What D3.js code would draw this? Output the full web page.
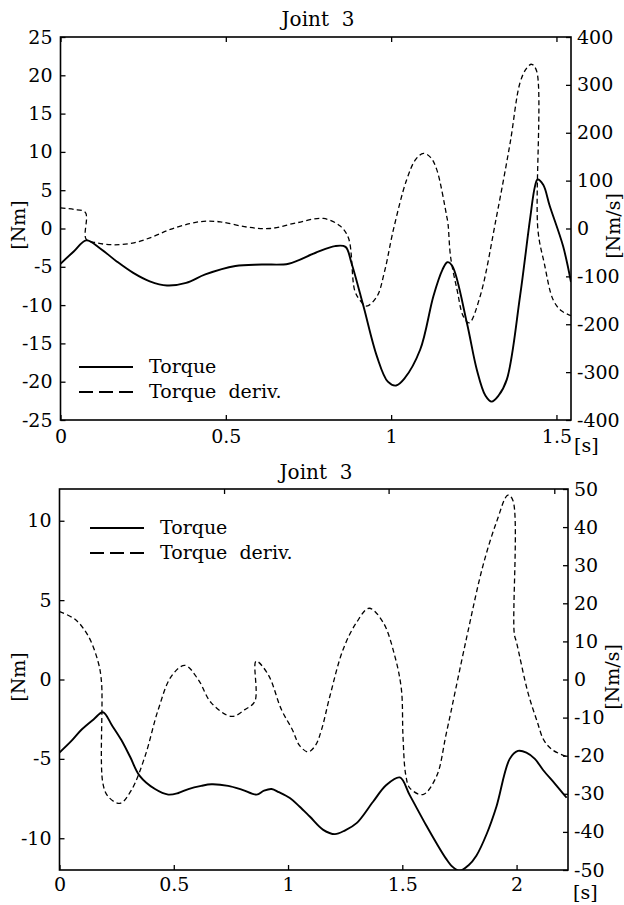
<!DOCTYPE html>
<html><head><meta charset="utf-8">
<script src="https://cdn.jsdelivr.net/npm/d3@7"></script>
<style>
body{margin:0;background:#fff}
svg{display:block;background:#fff}
text{font-family:"DejaVu Serif","Liberation Serif",serif;fill:#000}
</style>
</head><body>
<svg id="chart" width="624" height="905"></svg>
<script>
// ---------- DATA ----------
// Panel 1 (top)
const p1TorqueTime = [0,0.04,0.078,0.12,0.17,0.22,0.27,0.322,0.38,0.438,0.529,0.609,0.69,0.77,0.83,0.862,0.88,0.916,0.957,0.99,1.015,1.04,1.088,1.128,1.155,1.17,1.185,1.229,1.259,1.285,1.304,1.325,1.35,1.39,1.42,1.435,1.443,1.46,1.48,1.52,1.544];
const p1Torque     = [-4.6,-3.0,-1.55,-2.6,-4.3,-5.8,-6.9,-7.44,-7.1,-6.0,-4.9,-4.7,-4.6,-3.2,-2.3,-2.4,-4.5,-10.1,-16.7,-20.0,-20.5,-19.6,-15.8,-8.8,-5.4,-4.4,-4.9,-12.3,-18.4,-21.8,-22.6,-21.8,-19.7,-8.8,1.2,5.5,6.4,5.7,2.9,-2.3,-7.0];
const p1DerivTime  = [0,0.04,0.0755,0.0775,0.11,0.161,0.222,0.28,0.332,0.39,0.433,0.483,0.564,0.634,0.715,0.795,0.846,0.871,0.89,0.906,0.926,0.957,0.98,1.007,1.047,1.075,1.098,1.12,1.138,1.168,1.172,1.18,1.2,1.218,1.236,1.269,1.319,1.36,1.39,1.41,1.425,1.44,1.444,1.463,1.49,1.515,1.544];
const p1Deriv      = [43,40,33,-22,-30,-34,-30,-17,-2,10,15,14,3,0,12,21,5,-20,-130,-150,-162,-142,-90,-2,102,145,157,148,123,26,10,-60,-130,-183,-197,-142,26,179,305,335,343,329,-3,-72,-149,-172,-182];
// Panel 2 (bottom)
const p2TorqueTime = [0,0.05,0.097,0.15,0.19,0.23,0.27,0.31,0.35,0.418,0.476,0.52,0.564,0.62,0.665,0.738,0.8,0.862,0.895,0.928,0.96,1.008,1.05,1.095,1.154,1.205,1.25,1.3,1.372,1.43,1.489,1.533,1.605,1.649,1.692,1.72,1.751,1.79,1.824,1.87,1.912,1.97,2.006,2.043,2.08,2.116,2.17,2.219];
const p2Torque     = [-4.6,-3.9,-3.15,-2.5,-2.06,-2.9,-3.8,-4.9,-6.05,-6.9,-7.25,-7.15,-6.9,-6.7,-6.6,-6.7,-6.95,-7.25,-7.0,-6.9,-7.1,-7.47,-8.0,-8.63,-9.47,-9.74,-9.5,-9.05,-7.7,-6.65,-6.17,-7.3,-9.2,-10.3,-11.3,-11.8,-12.05,-11.7,-11.1,-9.7,-8.0,-5.0,-4.5,-4.6,-5.0,-5.7,-6.6,-7.45];
const p2DerivTime  = [0,0.068,0.126,0.17,0.184,0.19,0.214,0.265,0.315,0.374,0.432,0.49,0.549,0.607,0.665,0.753,0.811,0.855,0.86,0.913,0.971,1.02,1.05,1.088,1.12,1.146,1.183,1.241,1.3,1.355,1.416,1.467,1.496,1.503,1.515,1.533,1.59,1.649,1.693,1.78,1.853,1.912,1.962,1.984,1.99,2.0,2.05,2.09,2.12,2.16,2.219];
const p2Deriv      = [17.8,15.8,11.4,4.4,-0.9,-27.3,-30.8,-32.5,-29,-20.2,-7.9,0.9,3.7,0,-6.2,-9.7,-7.9,-5.7,4.8,1.3,-7.9,-13.3,-17.3,-19,-17.3,-13.3,-4.4,7.9,15,18.7,15,6.2,-2.6,-15,-25,-28.5,-30.2,-25.5,-14,10.6,29.9,41.3,48.4,47,12,9.7,-3.5,-11,-16,-18.6,-20.2];

// Axis ticks
const p1XTicks = [0,0.5,1,1.5];
const p1LeftTicks = [25,20,15,10,5,0,-5,-10,-15,-20,-25];
const p1RightTicks = [400,300,200,100,0,-100,-200,-300,-400];
const p2XTicks = [0,0.5,1,1.5,2];
const p2XTopTicks = [0.72,1.44,2.165];
const p2LeftTicks = [10,5,0,-5,-10];
const p2RightTicks = [50,40,30,20,10,0,-10,-20,-30,-40,-50];

const titleText = "Joint\u00a0\u00a03";
const legendLabels = ["Torque", "Torque\u00a0\u00a0deriv."];

// ---------- DRAWING ----------
const svg = d3.select("#chart");
const FS = 19;

function zip(t, v){ return t.map((d,i)=>[d, v[i]]); }

function panel(cfg){
  const g = svg.append("g");
  const x = d3.scaleLinear().domain(cfg.xDomain).range([cfg.left, cfg.right]);
  const yL = d3.scaleLinear().domain(cfg.yLDomain).range([cfg.bottom, cfg.top]);
  const yR = d3.scaleLinear().domain(cfg.yRDomain).range([cfg.bottom, cfg.top]);
  const fmt = d => String(d);

  // title
  g.append("text").attr("x", cfg.titleX).attr("y", cfg.titleY)
    .attr("text-anchor","middle").attr("font-size",FS+1).text(titleText);

  // clip
  const cid = "clip" + cfg.id;
  svg.append("clipPath").attr("id", cid).append("rect")
    .attr("x", cfg.left).attr("y", cfg.top)
    .attr("width", cfg.right-cfg.left).attr("height", cfg.bottom-cfg.top);

  // lines
  const curve = d3.curveCatmullRom.alpha(0.5);
  const lineL = d3.line().x(d=>x(d[0])).y(d=>yL(d[1])).curve(curve);
  const lineR = d3.line().x(d=>x(d[0])).y(d=>yR(d[1])).curve(curve);
  g.append("path").attr("d", lineR(zip(cfg.derivT, cfg.deriv)))
    .attr("fill","none").attr("stroke","#000").attr("stroke-width",1.3)
    .attr("stroke-dasharray","5,3.2").attr("clip-path",`url(#${cid})`);
  g.append("path").attr("d", lineL(zip(cfg.torqueT, cfg.torque)))
    .attr("fill","none").attr("stroke","#000").attr("stroke-width",1.9)
    .attr("stroke-linejoin","round").attr("clip-path",`url(#${cid})`);

  // axes (ticks inward)
  const ax = (sel)=>{ sel.select(".domain").remove(); sel.selectAll("line").attr("stroke","#000").attr("stroke-width",1.3);
    sel.selectAll("text").attr("font-size",FS).attr("font-family",'"DejaVu Serif","Liberation Serif",serif').attr("fill","#000"); };
  g.append("g").attr("transform",`translate(${cfg.left},0)`)
    .call(d3.axisLeft(yL).tickValues(cfg.leftTicks).tickFormat(fmt).tickSize(-5).tickPadding(8)).call(ax);
  g.append("g").attr("transform",`translate(${cfg.right},0)`)
    .call(d3.axisRight(yR).tickValues(cfg.rightTicks).tickFormat(fmt).tickSize(-5).tickPadding(6)).call(ax);
  g.append("g").attr("transform",`translate(0,${cfg.bottom})`)
    .call(d3.axisBottom(x).tickValues(cfg.xTicks).tickFormat(fmt).tickSize(-5).tickPadding(cfg.xPad)).call(ax);
  g.append("g").attr("transform",`translate(0,${cfg.top})`)
    .call(d3.axisTop(x).tickValues(cfg.xTopTicks).tickFormat("").tickSize(-5)).call(ax);

  // frame
  g.append("rect").attr("x",cfg.left).attr("y",cfg.top)
    .attr("width",cfg.right-cfg.left).attr("height",cfg.bottom-cfg.top)
    .attr("fill","none").attr("stroke","#000").attr("stroke-width",1.6);

  // axis labels
  g.append("text").attr("transform",`translate(${cfg.lLabelX},${cfg.lLabelY}) rotate(-90)`)
    .attr("text-anchor","middle").attr("font-size",FS).text("[Nm]");
  g.append("text").attr("transform",`translate(${cfg.rLabelX},${cfg.rLabelY}) rotate(-90)`)
    .attr("text-anchor","middle").attr("font-size",FS).text("[Nm/s]");
  g.append("text").attr("x",cfg.sX).attr("y",cfg.sY).attr("font-size",FS).text("[s]");

  // legend
  const lg = g.append("g");
  lg.append("line").attr("x1",cfg.legX).attr("x2",cfg.legX+54).attr("y1",cfg.legY).attr("y2",cfg.legY)
    .attr("stroke","#000").attr("stroke-width",1.9);
  lg.append("text").attr("x",cfg.legX+70).attr("y",cfg.legY+6).attr("font-size",FS).text(legendLabels[0]);
  lg.append("line").attr("x1",cfg.legX).attr("x2",cfg.legX+54).attr("y1",cfg.legY+25).attr("y2",cfg.legY+25)
    .attr("stroke","#000").attr("stroke-width",1.9).attr("stroke-dasharray","14,6");
  lg.append("text").attr("x",cfg.legX+70).attr("y",cfg.legY+31).attr("font-size",FS).text(legendLabels[1]);
}

panel({
  id:1, left:60.5, right:571, top:37, bottom:420,
  xDomain:[0,1.544], yLDomain:[-25,25], yRDomain:[-400,400],
  xTicks:p1XTicks, xTopTicks:p1XTicks, leftTicks:p1LeftTicks, rightTicks:p1RightTicks,
  torqueT:p1TorqueTime, torque:p1Torque, derivT:p1DerivTime, deriv:p1Deriv,
  titleX:318, titleY:26, xPad:10,
  lLabelX:25, lLabelY:225, rLabelX:620, rLabelY:226,
  sX:574, sY:452, legX:79, legY:367
});
panel({
  id:2, left:59.5, right:568, top:489, bottom:870,
  xDomain:[0,2.225], yLDomain:[-12,12], yRDomain:[-50,50],
  xTicks:p2XTicks, xTopTicks:p2XTopTicks, leftTicks:p2LeftTicks, rightTicks:p2RightTicks,
  torqueT:p2TorqueTime, torque:p2Torque, derivT:p2DerivTime, deriv:p2Deriv,
  titleX:316, titleY:479, xPad:8,
  lLabelX:25, lLabelY:677, rLabelX:619, rLabelY:677,
  sX:573, sY:899, legX:90, legY:528
});
</script>
</body></html>
